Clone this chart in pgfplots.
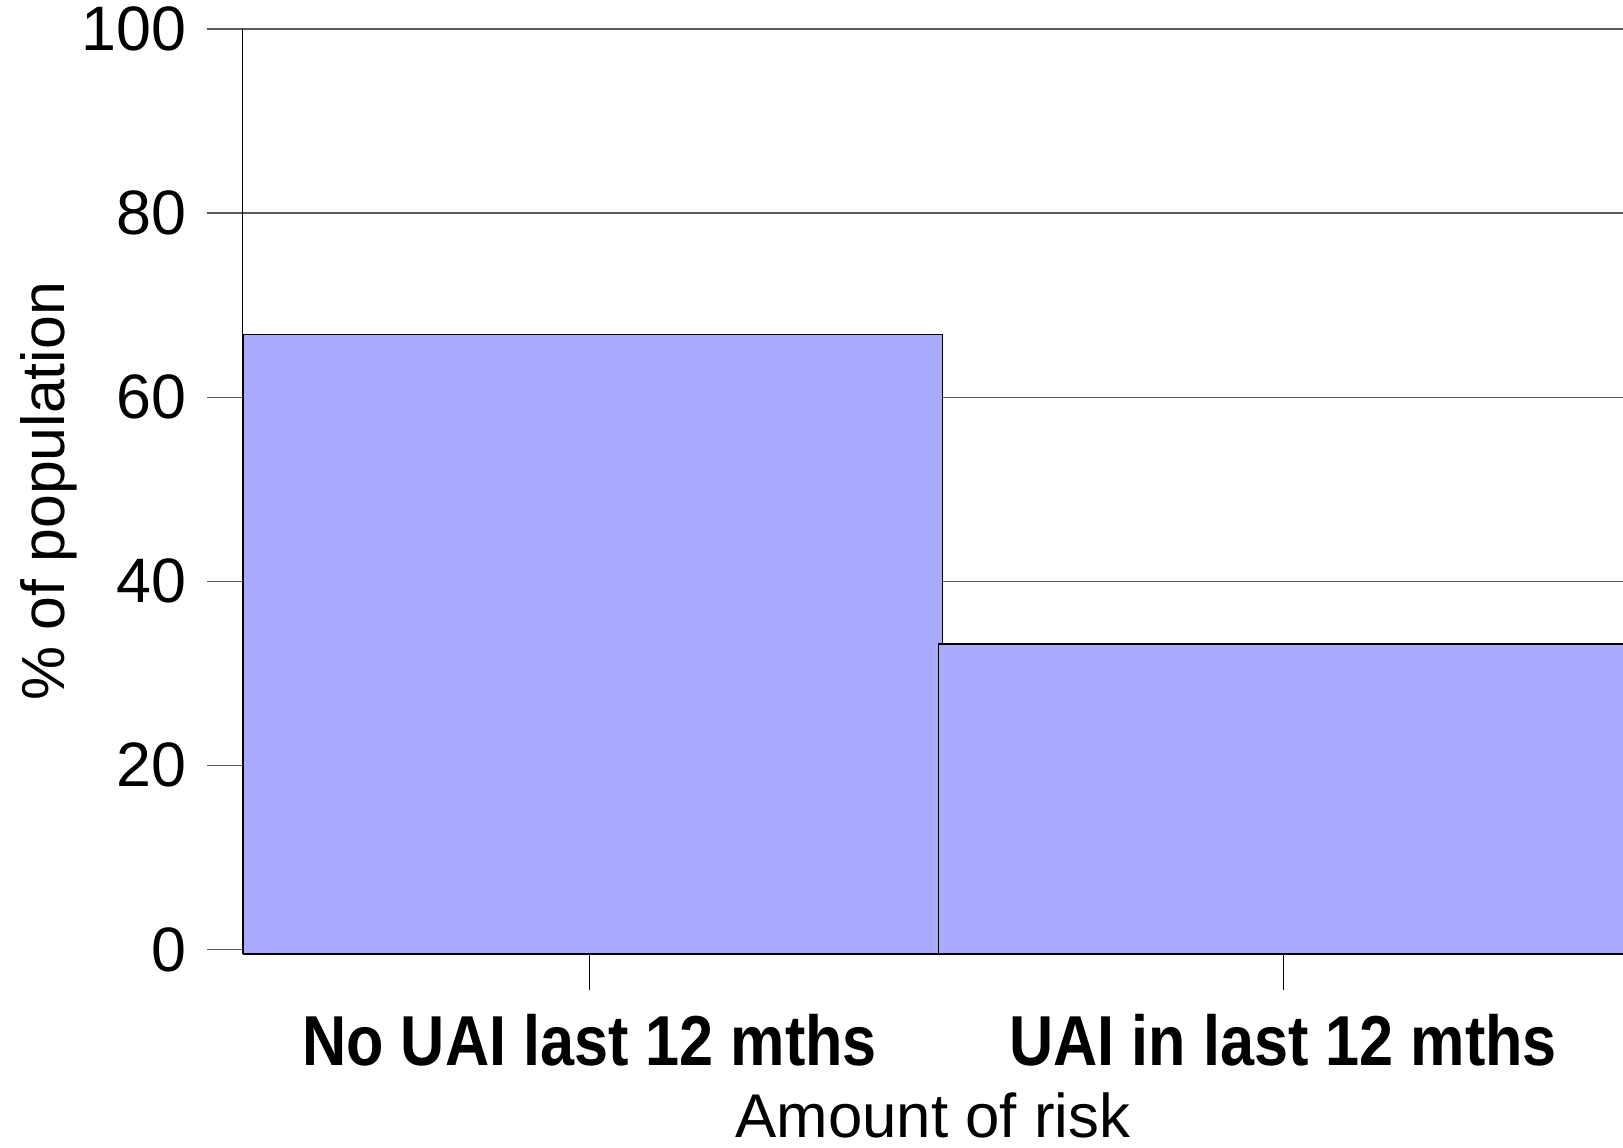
\documentclass[border=0pt]{standalone}
\usepackage{fontspec}
\setmainfont{Liberation Sans}
\usepackage{pgfplots}
\pgfplotsset{compat=1.18}
\definecolor{barblue}{RGB}{170,170,255}
\definecolor{gridgray}{RGB}{90,90,90}
\newcommand{\xlab}[1]{\scalebox{0.865}[1]{\fontsize{35.5}{40}\bfseries\selectfont #1}}
\begin{document}
\begin{tikzpicture}
\begin{axis}[
  at={(0,0)}, anchor=south west,
  scale only axis,
  width=690bp, height=462.5bp,
  xmin=-0.5, xmax=1.49,
  ymin=-0.5, ymax=100,
  ytick={0,20,40,60,80,100},
  xtick={0,1},
  xticklabels={\xlab{No UAI last 12 mths}, \xlab{UAI in last 12 mths}},
  /pgf/number format/assume math mode=true,
  axis y line*=left,
  axis x line*=bottom,
  axis line style={-, line width=0.5bp, black},
  x axis line style={draw=none},
  tick align=outside,
  major tick length=18bp,
  ytick style={gridgray, line width=0.6bp},
  xtick style={black, line width=0.5bp},
  ymajorgrids,
  major grid style={gridgray, line width=0.6bp},
  yticklabel style={font=\fontsize{31.5}{36}\selectfont, inner sep=0pt, xshift=-10bp},
  xticklabel style={inner sep=0pt, yshift=-12bp},
  xlabel={Amount of risk},
  xlabel style={at={(axis description cs:0.5,-0.19784)}, anchor=base, inner sep=0pt, font=\fontsize{31}{36}\selectfont},
  ylabel={\% of population},
  ylabel style={at={(axis description cs:-0.1297,0.5)}, rotate=0, anchor=base, inner sep=0pt, font=\fontsize{30.5}{36}\selectfont},
]
\addplot[fill=barblue, draw=black, line width=0.7bp] coordinates {(-0.5,-0.5) (-0.5,66.8) (0.509,66.8) (0.509,-0.5)} -- cycle;
\addplot[fill=barblue, draw=black, line width=0.7bp] coordinates {(0.503,-0.5) (0.503,33.2) (1.5,33.2) (1.5,-0.5)} -- cycle;
\end{axis}
\pgfresetboundingbox
\useasboundingbox (-121.5bp,-97bp) rectangle (690bp,477bp);
\end{tikzpicture}
\end{document}
